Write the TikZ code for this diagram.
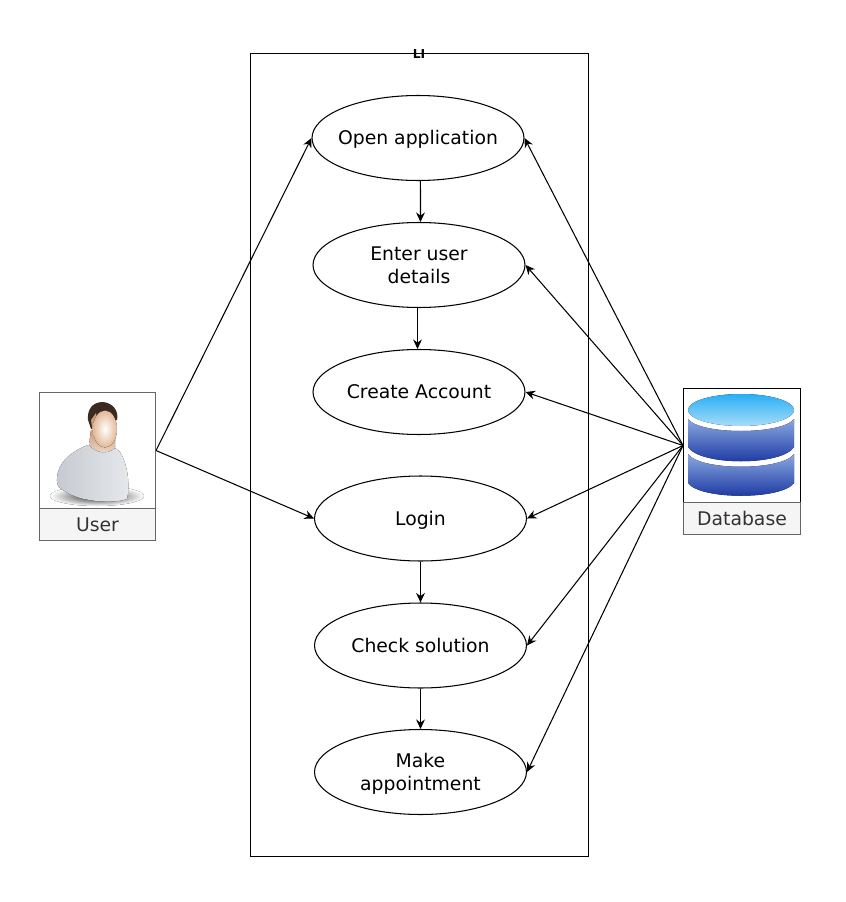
\documentclass[tikz,border=0pt]{standalone}
\usepackage{fontspec}
\setmainfont{DejaVu Sans}
\usepackage{tikz}
\usetikzlibrary{positioning,shapes.geometric,arrows.meta}
\definecolor{labelgray}{HTML}{666666}
\definecolor{labelfill}{HTML}{F5F5F5}
\definecolor{labeltext}{HTML}{333333}
\definecolor{diskhigh}{HTML}{8AA8E0}
\definecolor{disklow}{HTML}{14309F}
\definecolor{lidhigh}{HTML}{2AAEF5}
\definecolor{lidlow}{HTML}{A6DDF8}
\definecolor{skinedge}{HTML}{E2B898}
\definecolor{skinneck}{HTML}{C89A78}
\definecolor{hairdark}{HTML}{3A2A20}
\definecolor{shirtdark}{HTML}{C6CAD0}
\definecolor{shirtlight}{HTML}{E6E8EC}
\newcommand{\uctext}[1]{\makebox[0pt]{\raisebox{-4.1pt}[0pt][0pt]{\begin{tabular}{@{}c@{}}#1\end{tabular}}}}
\tikzset{
  usecase/.style={draw,ellipse,minimum width=4.24cm,minimum height=1.7cm,inner sep=0pt,font=\fontsize{10.7}{13}\selectfont},
  actorbox/.style={draw=labelgray,fill=labelfill,minimum width=2.32cm,minimum height=0.64cm,inner sep=0pt,text=labeltext,text height=10.4pt,text depth=2pt,font=\fontsize{10.7}{13}\selectfont},
  link/.style={-{Stealth[length=5.4pt,width=5pt]},line width=0.6pt}
}
\begin{document}
\begin{tikzpicture}[x=0.02cm,y=-0.02cm,line width=0.6pt]
  \useasboundingbox (0,0) rectangle (845,902);
  % system box
  \draw (250.5,53.5) rectangle (588.5,856.5);
  \node[font=\fontsize{7}{9}\selectfont\bfseries,inner sep=0pt] (title) at (419,54.3) {LI};
  % use cases
  \node[usecase] (open) at (418,138) {\uctext{Open application}};
  \node[usecase] (enter) at (419,265) {\uctext{Enter user\\details}};
  \node[usecase] (create) at (419,392) {\uctext{Create Account}};
  \node[usecase] (login) at (420.5,518.5) {\uctext{Login}};
  \node[usecase] (check) at (420.5,645.5) {\uctext{Check solution}};
  \node[usecase] (appoint) at (420.5,772) {\uctext{Make\\appointment}};
  % user
  \node[draw=labelgray,minimum width=2.32cm,minimum height=2.32cm,inner sep=0pt] (user) at (97.5,450.5) {};
  \node[actorbox] (userlabel) at (97.5,524.5) {User};
  \fill[inner color=black!85,outer color=white] (97,496) ellipse (47 and 10);
  \fill[left color=shirtdark,right color=shirtlight]
    (88,445) .. controls (75,450) and (62,458) .. (58,472)
    .. controls (56,480) and (57,487) .. (60,488)
    .. controls (68,494) and (74,496) .. (80,498)
    .. controls (95,502) and (115,503) .. (127,499)
    .. controls (130,485) and (128,465) .. (120,452)
    .. controls (116,448) and (112,446) .. (110,446) -- cycle;
  \fill[top color=skinneck,bottom color=skinedge!50!white] (91,430) -- (115,430) -- (115,448) .. controls (107,455) and (96,453) .. (89,445) -- cycle;
  % head
  \fill[hairdark] (103,402) .. controls (92,402) and (87,410) .. (88,420)
    -- (91,429) -- (117,420) .. controls (119,411) and (113,403) .. (103,402) -- cycle;
  \fill[skinneck] (91,420) -- (96,413) -- (100,440) -- (93,434) -- cycle;
  \fill[inner color=white,outer color=skinedge] (105,429) ellipse (12 and 18.5);
  % database
  \node[draw,minimum width=2.34cm,minimum height=2.28cm,inner sep=0pt] (db) at (742,445.5) {};
  \node[actorbox,minimum width=2.34cm] (dblabel) at (742,518.5) {Database};
  \fill[top color=diskhigh,bottom color=disklow]
    (688,454) .. controls (700,471) and (782,471) .. (794,454) -- (794,483)
    .. controls (782,500) and (700,500) .. (688,483) -- cycle;
  \fill[top color=diskhigh,bottom color=disklow]
    (688,419) .. controls (700,435) and (782,435) .. (794,419) -- (794,447)
    .. controls (782,466) and (700,466) .. (688,447) -- cycle;
  \fill[top color=lidhigh,bottom color=lidlow] (741,410) ellipse (53 and 16);
  % connectors
  \draw[link] ([xshift=1.4pt]open.south) -- ([xshift=0.85pt]enter.north);
  \draw[link] ([xshift=-0.85pt]enter.south) -- ([xshift=-0.85pt]create.north);
  \draw[link] (login.south) -- (check.north);
  \draw[link] (check.south) -- (appoint.north);
  \coordinate (userport) at (user.east);
  \coordinate (dbport) at (db.west);
  \draw[link] (userport) -- (open.west);
  \draw[link] (userport) -- (login.west);
  \foreach \target in {open,enter,create,login,check,appoint}
    \draw[link] (dbport) -- (\target.east);
\end{tikzpicture}
\end{document}
